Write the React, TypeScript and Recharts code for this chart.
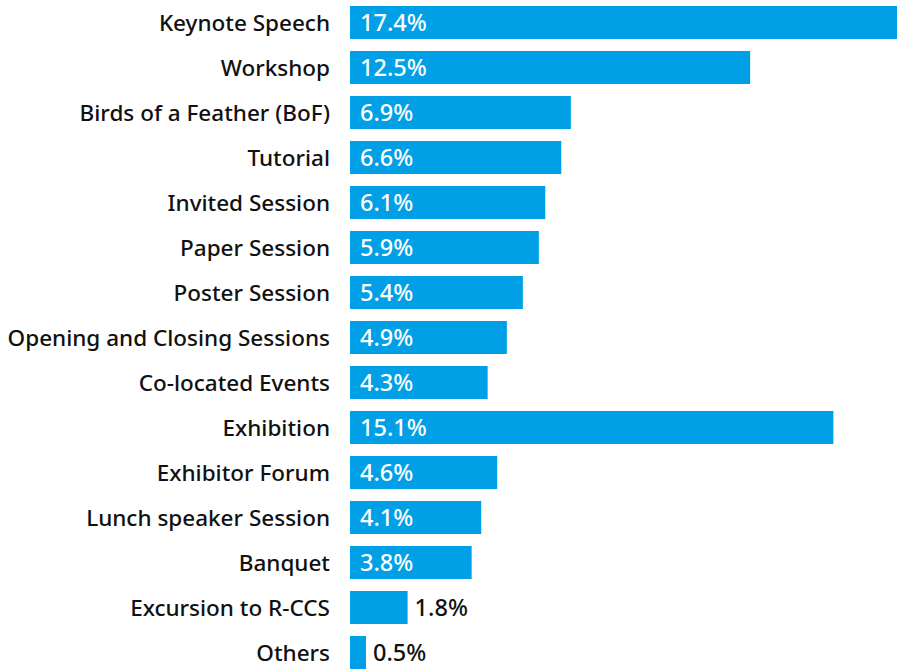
import React from "react";
import { BarChart, Bar, XAxis, YAxis, LabelList } from "recharts";

const categories = [
  "Keynote Speech",
  "Workshop",
  "Birds of a Feather (BoF)",
  "Tutorial",
  "Invited Session",
  "Paper Session",
  "Poster Session",
  "Opening and Closing Sessions",
  "Co-located Events",
  "Exhibition",
  "Exhibitor Forum",
  "Lunch speaker Session",
  "Banquet",
  "Excursion to R-CCS",
  "Others",
];
const values = [17.4, 12.5, 6.9, 6.6, 6.1, 5.9, 5.4, 4.9, 4.3, 15.1, 4.6, 4.1, 3.8, 1.8, 0.5];

const data = categories.map((name, i) => ({ name, value: values[i] }));

const FONT = "'Noto Sans', sans-serif";
const BLUE = "#009FE6";

const YTick = (props: any) => {
  const { y, payload } = props;
  return (
    <text
      x={330}
      y={y}
      dy="0.36em"
      textAnchor="end"
      fill="#111"
      fontFamily={FONT}
      fontSize={22.5}
      fontWeight={500}
    >
      {payload.value}
    </text>
  );
};

const ValueLabel = (props: any) => {
  const { x, y, width, height, value } = props;
  const inside = value >= 3;
  return (
    <text
      x={inside ? x + 10 : x + width + 7}
      y={y + height / 2}
      dy="0.36em"
      textAnchor="start"
      fill={inside ? "#ffffff" : "#111"}
      fontFamily={FONT}
      fontSize={23.5}
      fontWeight={500}
    >
      {`${value.toFixed(1)}%`}
    </text>
  );
};

export default function App() {
  return (
    <div
      style={{
        position: "absolute",
        left: 0,
        top: 0,
        width: 897,
        height: 670,
        overflow: "hidden",
        background: "#fff",
      }}
    >
      <BarChart
        layout="vertical"
        width={910}
        height={675}
        data={data}
        margin={{ top: 0, right: 3, bottom: 0, left: 0 }}
        barCategoryGap={12}
      >
        <XAxis type="number" domain={[0, 17.4]} hide />
        <YAxis
          type="category"
          dataKey="name"
          width={350}
          axisLine={false}
          tickLine={false}
          interval={0}
          tick={<YTick />}
        />
        <Bar dataKey="value" fill={BLUE} barSize={33} isAnimationActive={false}>
          <LabelList dataKey="value" content={<ValueLabel />} />
        </Bar>
      </BarChart>
    </div>
  );
}
